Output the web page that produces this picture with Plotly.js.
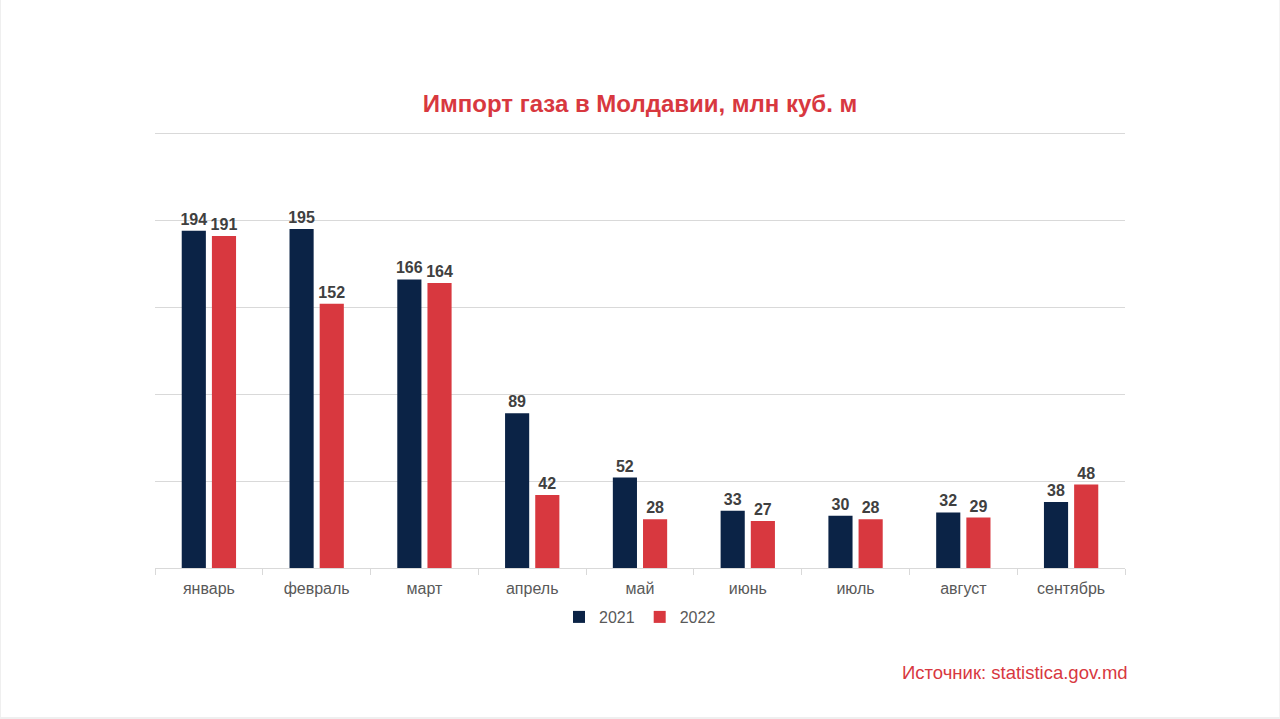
<!DOCTYPE html>
<html>
<head>
<meta charset="utf-8">
<script src="https://cdn.plot.ly/plotly-3.0.1.min.js"></script>
<style>
html,body{margin:0;padding:0;background:#fff;}
#chart{width:1280px;height:719px;box-shadow:inset 1px -2px 0 0 #efefef, inset -1px 0 0 0 #f3f3f3;}
</style>
</head>
<body>
<div id="chart"></div>
<script>
const months = ["январь","февраль","март","апрель","май","июнь","июль","август","сентябрь"];
const values2021 = [194,195,166,89,52,33,30,32,38];
const values2022 = [191,152,164,42,28,27,28,29,48];
const seriesNames = ["2021","2022"];

const FONT = "Liberation Sans, Arial, sans-serif";
const labelFont = {family:FONT, size:16, color:"#404040", weight:"bold"};

const traces = [
  {type:"bar", name:seriesNames[0], x:months, y:values2021, marker:{color:"#0b2346"},
   text:values2021.map(String), textposition:"outside", constraintext:"none", textfont:labelFont, cliponaxis:false, hoverinfo:"x+y"},
  {type:"bar", name:seriesNames[1], x:months, y:values2022, marker:{color:"#d8383f"},
   text:values2022.map(String), textposition:"outside", constraintext:"none", textfont:labelFont, cliponaxis:false, hoverinfo:"x+y"}
];

const layout = {
  width:1280, height:719,
  paper_bgcolor:"rgba(0,0,0,0)", plot_bgcolor:"rgba(0,0,0,0)",
  margin:{l:155, r:155, t:130, b:151},
  barmode:"group", bargap:0.44, bargroupgap:0.2,
  title:{text:"<b>Импорт газа в Молдавии, млн куб. м</b>", x:0.5, xanchor:"center", xref:"paper",
         y:1-104/719, yanchor:"middle",
         font:{family:FONT, size:24, color:"#d8383f"}},
  xaxis:{showline:true, linecolor:"#d9d9d9", linewidth:1, ticks:"outside", tickson:"boundaries",
         ticklen:6, tickcolor:"#d9d9d9", showgrid:false, ticklabelstandoff:6,
         tickfont:{family:FONT, size:16, color:"#595959"}},
  yaxis:{range:[0,252], tickvals:[50,100,150,200,250], showticklabels:false,
         gridcolor:"#d9d9d9", gridwidth:1, zeroline:false},
  showlegend:true,
  legend:{orientation:"h", x:0.5, xanchor:"center", y:(568-617)/438, yanchor:"middle",
          itemwidth:30, tracegroupgap:0,
          font:{family:FONT, size:16, color:"#595959"}},
  annotations:[{text:"Источник: statistica.gov.md", xref:"paper", yref:"paper",
                x:(1130-155)/970, xanchor:"right", y:(568-672)/438, yanchor:"middle", showarrow:false,
                font:{family:FONT, size:18.5, color:"#d8383f"}}]
};

Plotly.newPlot("chart", traces, layout, {displayModeBar:false, staticPlot:true});
</script>
</body>
</html>
